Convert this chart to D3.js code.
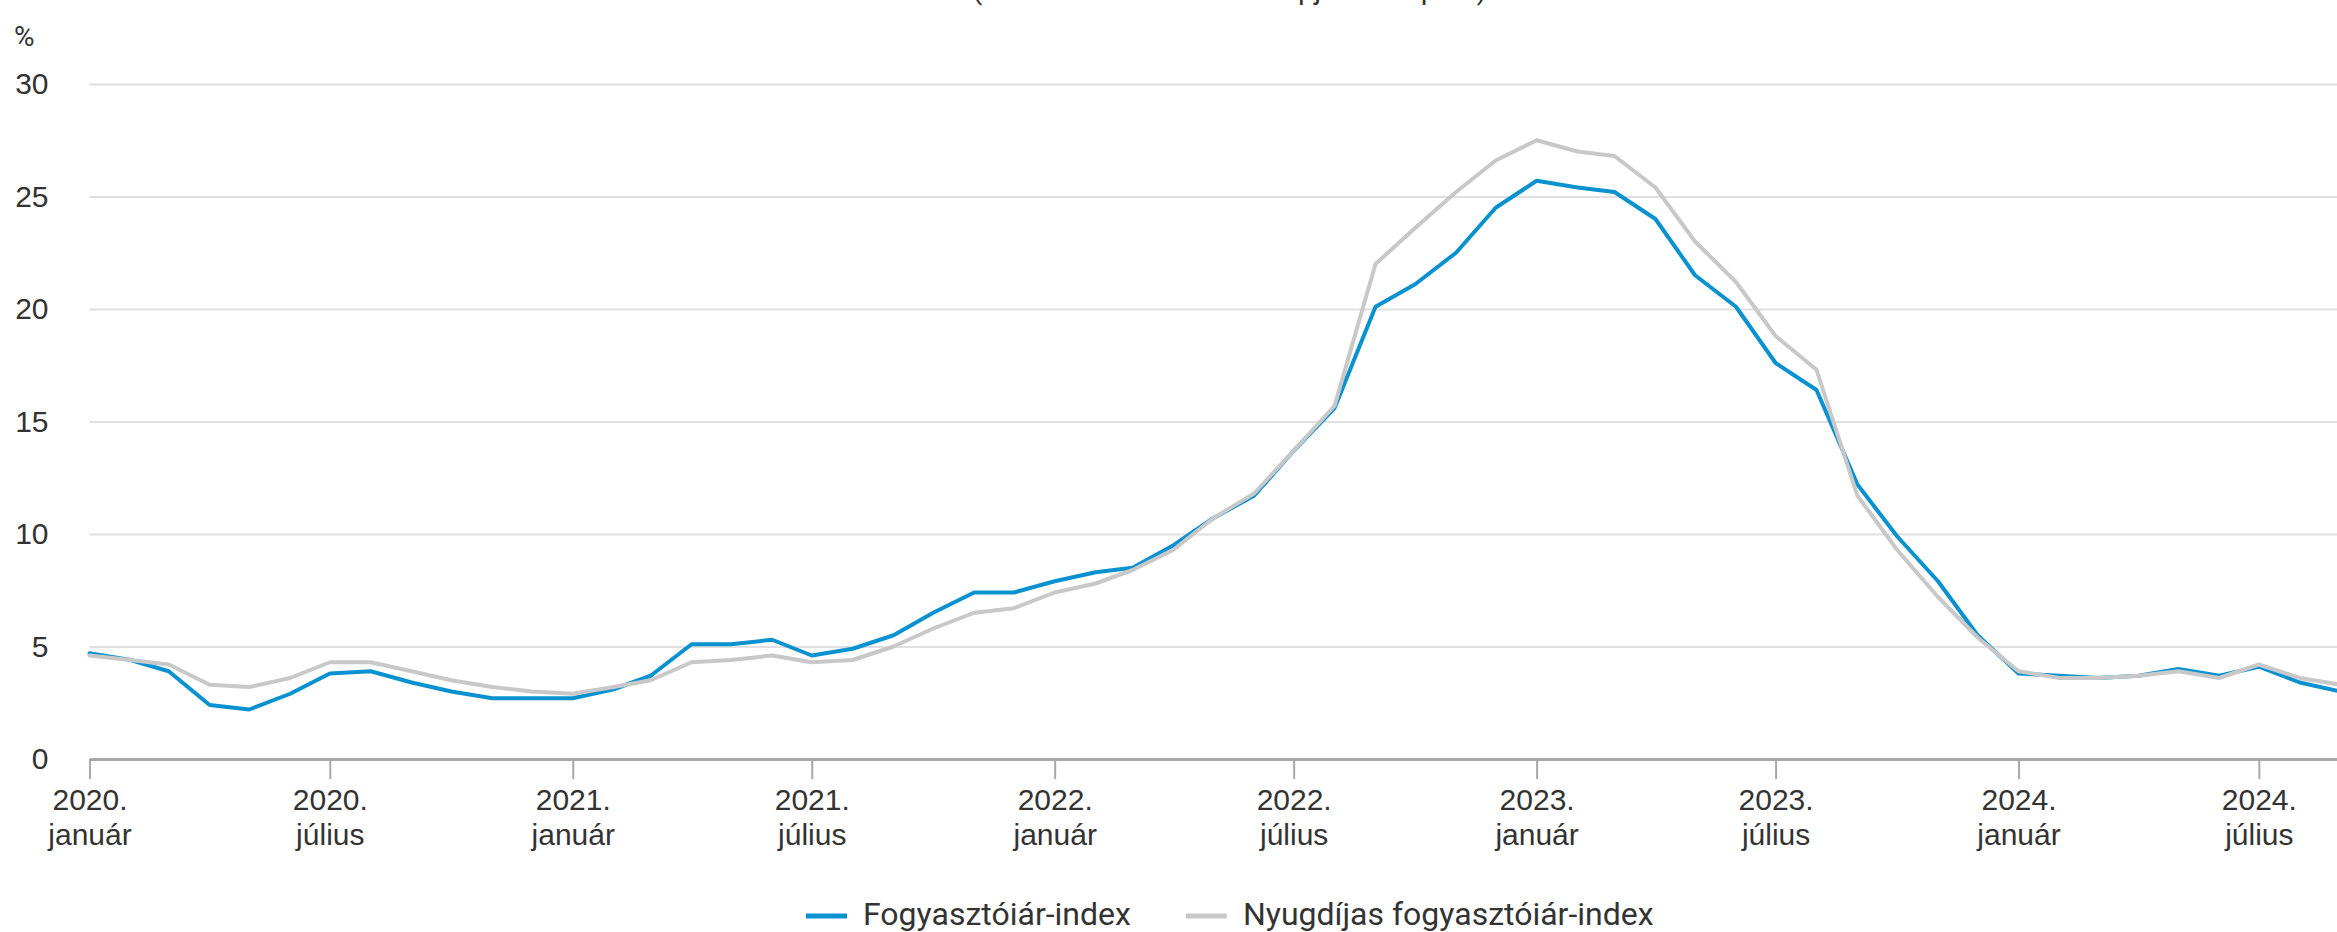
<!DOCTYPE html>
<html lang="hu">
<head>
    <meta charset="UTF-8">
    <title>Fogyasztóiár-index</title>
    <script src="https://d3js.org/d3.v7.min.js"></script>
    <style>
        body { margin: 0; background: #fff; }
        svg { display: block; font-family: Roboto, "Noto Sans", sans-serif; }
        .grid line { stroke: #e0e0e0; stroke-width: 2px; }
        .grid text, .xaxis text, .unit, .legend text { fill: #333; }
    </style>
</head>
<body>
    <svg id="chart" width="2337" height="932"></svg>

    <script>
        // havi adatok, 2020. január - 2024. szeptember (előző év azonos hónapja = 100)
        var startMonth = [2020, 0];
        var cpi = [
            4.7, 4.4, 3.9, 2.4, 2.2, 2.9, 3.8, 3.9, 3.4, 3.0, 2.7, 2.7,
            2.7, 3.1, 3.7, 5.1, 5.1, 5.3, 4.6, 4.9, 5.5, 6.5, 7.4, 7.4,
            7.9, 8.3, 8.5, 9.5, 10.7, 11.7, 13.7, 15.6, 20.1, 21.1, 22.5, 24.5,
            25.7, 25.4, 25.2, 24.0, 21.5, 20.1, 17.6, 16.4, 12.2, 9.9, 7.9, 5.5,
            3.8, 3.7, 3.6, 3.7, 4.0, 3.7, 4.1, 3.4, 3.0
        ];
        var pensionerCpi = [
            4.6, 4.4, 4.2, 3.3, 3.2, 3.6, 4.3, 4.3, 3.9, 3.5, 3.2, 3.0,
            2.9, 3.2, 3.5, 4.3, 4.4, 4.6, 4.3, 4.4, 5.0, 5.8, 6.5, 6.7,
            7.4, 7.8, 8.4, 9.3, 10.7, 11.8, 13.7, 15.7, 22.0, 23.6, 25.2, 26.6,
            27.5, 27.0, 26.8, 25.4, 23.0, 21.2, 18.8, 17.3, 11.7, 9.3, 7.2, 5.4,
            3.9, 3.6, 3.6, 3.7, 3.9, 3.6, 4.2, 3.6, 3.3
        ];
        var seriesNames = ["Fogyasztóiár-index", "Nyugdíjas fogyasztóiár-index"];
        var seriesColors = ["#0a92d0", "#c8c8c8"];
        var yTicks = [0, 5, 10, 15, 20, 25, 30];
        var monthNames = { 0: "január", 6: "július" };
        var subtitle = "(az előző év azonos hónapjához képest)";

        var W = 2337, H = 932;
        var left = 89.5, axisY = 759, topY = 84;

        var svg = d3.select("#chart");

        var dates = cpi.map(function(d, i) { return new Date(startMonth[0], startMonth[1] + i, 1); });

        var x = d3.scaleTime()
            .domain([dates[0], dates[dates.length - 1]])
            .range([left, 2340.7]);

        var y = d3.scaleLinear()
            .domain([0, 30])
            .range([axisY, topY]);

        // cím (a kép tetején levágva, csak az alsó szárak látszanak)
        svg.append("text")
            .attr("x", 1229.5)
            .attr("y", -1)
            .attr("text-anchor", "middle")
            .style("font-size", "29px")
            .style("fill", "#333")
            .text(subtitle);

        // rácsvonalak + y címkék
        var grid = svg.append("g")
            .attr("class", "grid")
            .attr("transform", "translate(" + left + ",0)")
            .call(d3.axisLeft(y)
                .tickValues(yTicks)
                .tickSize(-(W - left))
                .tickPadding(41));
        grid.select(".domain").remove();
        grid.selectAll("text").style("font-size", "30px");

        svg.append("text")
            .attr("class", "unit")
            .attr("x", 14)
            .attr("y", 46)
            .style("font-size", "28px")
            .text("%");

        // x tengely
        var xAxis = svg.append("g")
            .attr("class", "xaxis")
            .attr("transform", "translate(0," + axisY + ")")
            .call(d3.axisBottom(x)
                .tickValues(x.ticks(d3.timeMonth.every(6)))
                .tickSize(20)
                .tickSizeOuter(0));
        xAxis.select(".domain").attr("stroke", "#a8a8a8").attr("stroke-width", 3);
        xAxis.selectAll(".tick line").attr("stroke", "#a8a8a8").attr("stroke-width", 2);
        xAxis.selectAll(".tick text").remove();
        xAxis.selectAll(".tick").append("text")
            .attr("text-anchor", "middle")
            .style("font-size", "30px")
            .each(function(d) {
                var t = d3.select(this);
                t.append("tspan").attr("x", 0).attr("y", 51).text(d.getFullYear() + ".");
                t.append("tspan").attr("x", 0).attr("y", 86).text(monthNames[d.getMonth()]);
            });

        // vonalak
        var line = d3.line()
            .x(function(d) { return x(d.date); })
            .y(function(d) { return y(d.value); });

        [cpi, pensionerCpi].forEach(function(values, k) {
            var pts = values.map(function(v, i) { return { date: dates[i], value: v }; });
            svg.append("path")
                .datum(pts)
                .attr("d", line)
                .attr("fill", "none")
                .attr("stroke", seriesColors[k])
                .attr("stroke-width", 4)
                .attr("stroke-linejoin", "round")
                .attr("stroke-linecap", "round");
        });

        // jelmagyarázat
        var legend = svg.append("g").attr("class", "legend");
        var lx = 806;
        seriesNames.forEach(function(name, k) {
            legend.append("line")
                .attr("x1", lx).attr("x2", lx + 41)
                .attr("y1", 916).attr("y2", 916)
                .attr("stroke", seriesColors[k])
                .attr("stroke-width", 5);
            var t = legend.append("text")
                .attr("x", lx + 57)
                .attr("y", 925)
                .style("font-size", "32px")
                .text(name);
            lx = lx + 57 + t.node().getComputedTextLength() + 55;
        });
    </script>
</body>
</html>
